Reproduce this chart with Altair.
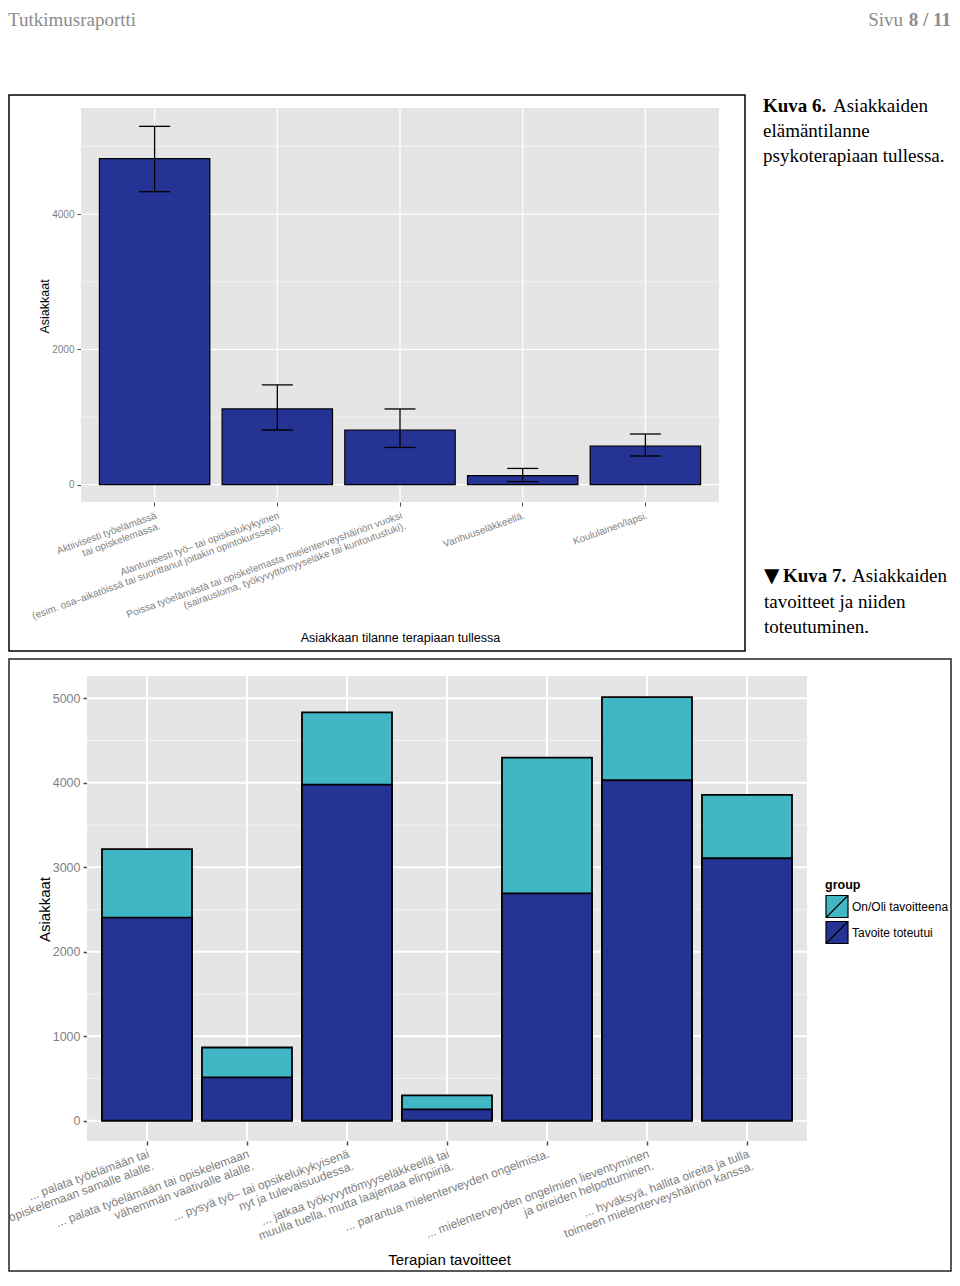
import altair as alt
import pandas as pd

# ---------------- data ----------------
# Kuva 6: client situation when entering therapy
situations = [
    "Aktiivisesti työelämässä\ntai opiskelemassa.",
    "Alantuneesti työ– tai opiskelukykyinen\n(esim. osa–aikatöissä tai suorittanut joitakin opintokursseja).",
    "Poissa työelämästä tai opiskelemasta mielenterveyshäiriön vuoksi\n(sairausloma, työkyvyttömyyseläke tai kuntoutustuki).",
    "Vanhuuseläkkeellä.",
    "Koululainen/lapsi.",
]
clients = [4820, 1120, 808, 133, 572]
err_low = [4330, 808, 550, 45, 424]
err_high = [5296, 1475, 1119, 240, 749]

# Kuva 7: therapy goals and their fulfilment
goals = [
    "... palata työelämään tai\nopiskelemaan samalle alalle.",
    "... palata työelämään tai opiskelemaan\nvähemmän vaativalle alalle.",
    "... pysyä työ– tai opsikelukykyisenä\nnyt ja tulevaisuudessa.",
    "... jatkaa työkyvyttömyyseläkkeellä tai\nmuulla tuella, mutta laajentaa elinpiiriä.",
    "... parantua mielenterveyden ongelmista.",
    "... mielenterveyden ongelmien lieventyminen\nja oireiden helpottuminen.",
    "... hyväksyä, hallita oireita ja tulla\ntoimeen mielenterveyshäiriön kanssa.",
]
goal_total = [3214, 867, 4834, 300, 4298, 5015, 3856]
goal_met = [2405, 512, 3978, 135, 2690, 4030, 3107]
groups = ["On/Oli tavoitteena", "Tavoite toteutui"]
group_colors = ["#41B6C4", "#253494"]

y1_major = [0, 2000, 4000]
y1_minor = [1000, 3000, 5000]
y2_major = [0, 1000, 2000, 3000, 4000, 5000]
y2_minor = [500, 1500, 2500, 3500, 4500]

header_left = "Tutkimusraportti"
header_page_word = "Sivu"
header_page_num = "8 / 11"
cap6_bold = "Kuva 6."
cap6_lines = ["Asiakkaiden", "elämäntilanne", "psykoterapiaan tullessa."]
cap7_arrow = "▼"
cap7_bold = "Kuva 7."
cap7_lines = ["Asiakkaiden", "tavoitteet ja niiden", "toteutuminen."]
title1_x = "Asiakkaan tilanne terapiaan tullessa"
title2_x = "Terapian tavoitteet"
title_y = "Asiakkaat"

# ---------------- layout (page pixels) ----------------
M = 8
W, H = 944, 1264
SANS = "Liberation Sans"
SERIF = "Liberation Serif"


def cx(x):
    return x - M


def cy(y):
    return y - M


one = pd.DataFrame({"k": [0]})


def rect(x0, y0, x1, y1, **kw):
    return alt.Chart(one).mark_rect(**kw).encode(
        x=alt.value(cx(x0)), x2=alt.value(cx(x1)),
        y=alt.value(cy(y0)), y2=alt.value(cy(y1)))


def text(s, x, y, **kw):
    style = dict(font=SERIF, fontSize=19, align="left", baseline="alphabetic", color="black")
    style.update(kw)
    return alt.Chart(pd.DataFrame({"t": [s]})).mark_text(**style).encode(
        text="t:N", x=alt.value(cx(x)), y=alt.value(cy(y)))


# panel 1
P1 = dict(l=81, r=719, t=108, b=502)
# panel 2
P2 = dict(l=87, r=807, t=676, b=1141)

tick_color = "#4d4d4d"
lab_color = "#7f7f7f"

# ---------- chart 1 ----------
x1s = alt.Scale(domain=situations, range=[cx(P1["l"]), cx(P1["r"])], paddingInner=0.1, paddingOuter=0.15)
y1s = alt.Scale(domain=[-256, 5567], range=[cy(P1["b"]), cy(P1["t"])], zero=False, nice=False)
x1ax = alt.Axis(orient="bottom", offset=cy(P1["b"]) - H, domain=False, grid=False,
                tickSize=4, tickColor=tick_color, tickWidth=1,
                labelAngle=340, labelAlign="right", labelBaseline="top", labelPadding=4,
                labelFont=SANS, labelFontSize=10, labelColor=lab_color, labelLineHeight=11,
                labelExpr="split(datum.label, '\\n')", labelLimit=1000, labelOverlap=False,
                labelBound=False, labelFlush=False,
                title=title1_x, titleFont=SANS, titleFontSize=12.5, titleFontWeight="normal",
                titleColor="black", titleX=cx(400), titleY=637 - P1["b"], titleAngle=0,
                titleAlign="center", titleBaseline="middle")
y1ax = alt.Axis(orient="left", offset=-cx(P1["l"]), values=y1_major, format="d",
                domain=False, grid=False,
                tickSize=4, tickColor=tick_color, tickWidth=1,
                labelFont=SANS, labelFontSize=10, labelColor=lab_color, labelPadding=3,
                title=title_y, titleFont=SANS, titleFontSize=12.5, titleFontWeight="normal",
                titleColor="black", titleX=44 - P1["l"], titleY=cy(306), titleAngle=270,
                titleAlign="center", titleBaseline="middle")


def X1(f):
    return alt.X(f"{f}:N", scale=x1s, axis=x1ax, sort=situations)


def Y1(f):
    return alt.Y(f"{f}:Q", scale=y1s, axis=y1ax)


df1 = pd.DataFrame({"cat": situations, "val": clients, "lo": err_low, "hi": err_high})

c1_minor = alt.Chart(pd.DataFrame({"v": y1_minor})).mark_rule(color="#F2F2F2", strokeWidth=1).encode(
    y=Y1("v"), x=alt.value(cx(P1["l"])), x2=alt.value(cx(P1["r"])))
c1_major = alt.Chart(pd.DataFrame({"v": y1_major})).mark_rule(color="white", strokeWidth=1.2).encode(
    y=Y1("v"), x=alt.value(cx(P1["l"])), x2=alt.value(cx(P1["r"])))
c1_vgrid = alt.Chart(df1).mark_rule(color="white", strokeWidth=1.2).encode(
    x=X1("cat"), y=alt.value(cy(P1["t"])), y2=alt.value(cy(P1["b"])))
c1_bars = alt.Chart(df1).mark_bar(fill="#253494", stroke="black", strokeWidth=1.2).encode(
    x=X1("cat"), y=Y1("val"))
c1_err = alt.Chart(df1).mark_rule(color="black", strokeWidth=1.3).encode(
    x=X1("cat"), y=Y1("lo"), y2="hi:Q")
c1_cap_lo = alt.Chart(df1).mark_tick(color="black", thickness=1.3, size=31, opacity=1).encode(
    x=X1("cat"), y=Y1("lo"))
c1_cap_hi = alt.Chart(df1).mark_tick(color="black", thickness=1.3, size=31, opacity=1).encode(
    x=X1("cat"), y=Y1("hi"))

chart1 = alt.layer(c1_minor, c1_major, c1_vgrid, c1_bars, c1_err, c1_cap_lo, c1_cap_hi)

# ---------- chart 2 ----------
x2s = alt.Scale(domain=goals, range=[cx(P2["l"]), cx(P2["r"])], paddingInner=0.1, paddingOuter=0.15)
y2s = alt.Scale(domain=[-240, 5264], range=[cy(P2["b"]), cy(P2["t"])], zero=False, nice=False)
x2ax = alt.Axis(orient="bottom", offset=cy(P2["b"]) - H, domain=False, grid=False,
                tickSize=4, tickColor=tick_color, tickWidth=1.5,
                labelAngle=340, labelAlign="right", labelBaseline="top", labelPadding=3,
                labelFont=SANS, labelFontSize=12, labelColor=lab_color, labelLineHeight=13,
                labelExpr="split(datum.label, '\\n')", labelLimit=1000, labelOverlap=False,
                labelBound=False, labelFlush=False,
                title=title2_x, titleFont=SANS, titleFontSize=15, titleFontWeight="normal",
                titleColor="black", titleX=cx(449), titleY=1259 - P2["b"], titleAngle=0,
                titleAlign="center", titleBaseline="middle")
y2ax = alt.Axis(orient="left", offset=-cx(P2["l"]), values=y2_major, format="d",
                domain=False, grid=False,
                tickSize=4, tickColor=tick_color, tickWidth=1.5,
                labelFont=SANS, labelFontSize=12.5, labelColor=lab_color, labelPadding=3,
                title=title_y, titleFont=SANS, titleFontSize=15, titleFontWeight="normal",
                titleColor="black", titleX=44 - P2["l"], titleY=cy(909), titleAngle=270,
                titleAlign="center", titleBaseline="middle")


def X2(f):
    return alt.X(f"{f}:N", scale=x2s, axis=x2ax, sort=goals)


def Y2(f):
    return alt.Y(f"{f}:Q", scale=y2s, axis=y2ax, stack=None)


rows = []
for g, t in zip(goals, goal_total):
    rows.append({"cat": g, "group": groups[0], "val": t})
for g, m in zip(goals, goal_met):
    rows.append({"cat": g, "group": groups[1], "val": m})
df2 = pd.DataFrame(rows)

legend_symbol = "M-1,-1H1V1H-1Z M-1,1L1,-1"

c2_minor = alt.Chart(pd.DataFrame({"v": y2_minor})).mark_rule(color="#F2F2F2", strokeWidth=1).encode(
    y=Y2("v"), x=alt.value(cx(P2["l"])), x2=alt.value(cx(P2["r"])))
c2_major = alt.Chart(pd.DataFrame({"v": y2_major})).mark_rule(color="white", strokeWidth=2).encode(
    y=Y2("v"), x=alt.value(cx(P2["l"])), x2=alt.value(cx(P2["r"])))
c2_vgrid = alt.Chart(pd.DataFrame({"cat": goals})).mark_rule(color="white", strokeWidth=2).encode(
    x=X2("cat"), y=alt.value(cy(P2["t"])), y2=alt.value(cy(P2["b"])))
c2_bars = alt.Chart(df2).mark_bar(stroke="black", strokeWidth=1.8, opacity=1).encode(
    x=X2("cat"), y=Y2("val"),
    color=alt.Color("group:N", scale=alt.Scale(domain=groups, range=group_colors),
                    legend=alt.Legend(orient="none", legendX=cx(825), legendY=cy(879),
                                      title="group", titleFont=SANS, titleFontSize=12.5,
                                      titleFontWeight="bold", titleColor="black", titlePadding=3,
                                      labelFont=SANS, labelFontSize=12, labelColor="black",
                                      labelOffset=3, symbolType=legend_symbol, symbolSize=484,
                                      symbolStrokeColor="black", symbolStrokeWidth=1.2,
                                      symbolOpacity=1, rowPadding=-5, padding=0, labelLimit=300)))

chart2 = alt.layer(c2_minor, c2_major, c2_vgrid, c2_bars)

# ---------- page decorations ----------
decor = [
    rect(9, 95, 745, 651, fillOpacity=0, stroke="black", strokeWidth=1.5),
    rect(9, 659, M + W - 1, M + H - 1, fillOpacity=0, stroke="#222222", strokeWidth=1.5),
    rect(P1["l"], P1["t"], P1["r"], P1["b"], fill="#E5E5E5"),
    rect(P2["l"], P2["t"], P2["r"], P2["b"], fill="#E5E5E5"),
]
texts = [
    text(header_left, 8, 26, color="#8c8c8c"),
    text(header_page_word, 903, 26, color="#8c8c8c", align="right"),
    text(header_page_num, 951, 26, color="#8c8c8c", align="right", fontWeight="bold"),
    text(cap6_bold, 763, 112, fontWeight="bold"),
    text(cap6_lines[0], 833, 112),
    text(cap6_lines[1], 763, 137),
    text(cap6_lines[2], 763, 162),
    text(cap7_arrow, 764, 582, font="DejaVu Sans", fontSize=20),
    text(cap7_bold, 783, 582, fontWeight="bold"),
    text(cap7_lines[0], 852, 582),
    text(cap7_lines[1], 764, 608),
    text(cap7_lines[2], 764, 633),
]

chart = alt.layer(*decor, chart1, chart2, *texts).resolve_scale(
    x="independent", y="independent").resolve_axis(
    x="independent", y="independent").properties(
    width=W, height=H, autosize=alt.AutoSizeParams(type="none"), padding=0,
    background="white").configure_view(strokeWidth=0)

chart.save("out.html", embed_options={"renderer": "svg", "actions": False})
